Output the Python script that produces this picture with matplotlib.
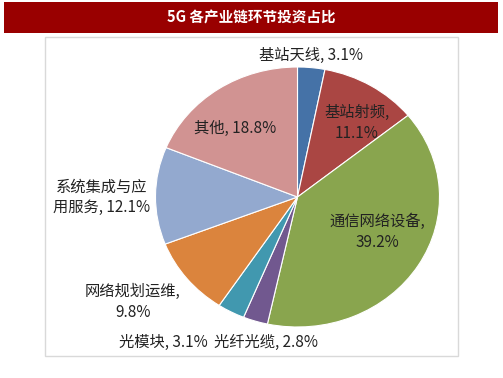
import matplotlib
matplotlib.use("Agg")
import matplotlib.pyplot as plt
from matplotlib.patches import Rectangle

plt.rcParams['font.family'] = ['Noto Sans CJK SC', 'DejaVu Sans']

title = "5G 各产业链环节投资占比"
categories = ["基站天线", "基站射频", "通信网络设备", "光纤光缆", "光模块", "网络规划运维", "系统集成与应用服务", "其他"]
values = [3.1, 11.1, 39.2, 2.8, 3.1, 9.8, 12.1, 18.8]
colors = ["#4572A7", "#AA4643", "#89A54E", "#71588F", "#4198AF", "#DB843D", "#93A9CF", "#D19392"]
label_texts = ["基站天线, 3.1%", "基站射频,\n11.1%", "通信网络设备,\n39.2%", "光纤光缆, 2.8%",
               "光模块, 3.1%", "网络规划运维,\n9.8%", "系统集成与应\n用服务, 12.1%", "其他, 18.8%"]
# label positions in image pixels (x, y from top)
label_pos = [(311, 55), (357, 123), (377, 232), (266, 342), (163, 342), (133, 302), (102, 197), (235, 128)]

W, H = 503, 378
SX = 142.0 / 130.0  # horizontal stretch of the pie in the reference

fig = plt.figure(figsize=(W / 100, H / 100), dpi=100)
ax = fig.add_axes([0, 0, 1, 1])

def px(x):
    return x / SX

# title bar
ax.add_patch(Rectangle((px(4), H - 33), px(494), 31, facecolor="#990000", edgecolor="none"))
ax.text(px(W / 2), H - 17.5, title, color="white", fontsize=10.5, fontweight='bold', ha='center', va='center')
# chart border
ax.add_patch(Rectangle((px(45), H - 356), px(413), 319, facecolor="white", edgecolor="#D9D9D9", linewidth=1))

ax.pie(values, colors=colors, startangle=90, counterclock=False, center=(px(297.5), H - 197), radius=130,
       wedgeprops=dict(edgecolor="white", linewidth=0.8), frame=True)
ax.set_xlim(0, px(W))
ax.set_ylim(0, H)
ax.set_aspect('auto')
ax.axis('off')

for t, (x, y) in zip(label_texts, label_pos):
    ax.text(px(x), H - y, t, fontsize=11, ha='center', va='center', color="#222222", linespacing=1.25)

fig.savefig("out.png", dpi=100)
